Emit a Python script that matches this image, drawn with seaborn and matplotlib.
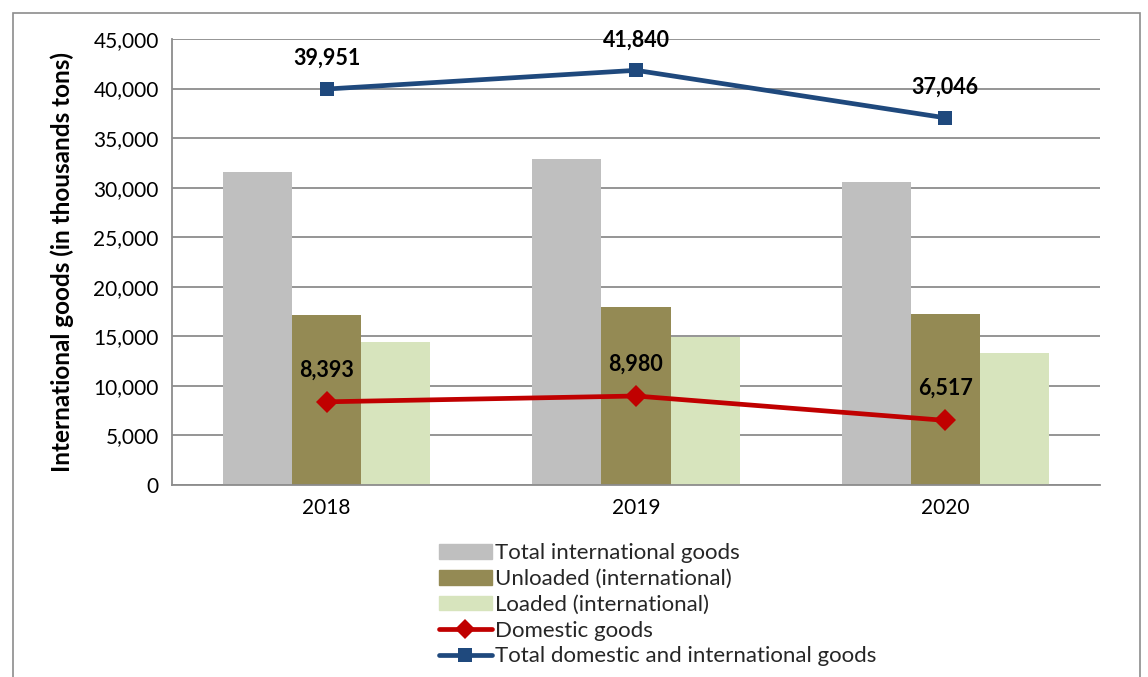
import numpy as np
import pandas as pd
import seaborn as sns
import matplotlib.pyplot as plt
from matplotlib.patches import Rectangle
from matplotlib.lines import Line2D
from matplotlib.ticker import FuncFormatter

# data (thousand tons)
years = ["2018", "2019", "2020"]
total_intl = [31581, 32923, 30572]
unloaded = [17153, 17990, 17223]
loaded = [14428, 14933, 13349]
domestic = [8393, 8980, 6517]
total_all = [39951, 41840, 37046]

bar_names = ["Total international goods", "Unloaded (international)", "Loaded (international)"]
bar_colors = ["#BFBFBF", "#948A54", "#D7E4BD"]

sns.set_style("white")
plt.rcParams['font.family'] = ['Lato', 'DejaVu Sans']

df = pd.DataFrame({
    "year": years * 3,
    "series": np.repeat(bar_names, 3),
    "value": total_intl + unloaded + loaded,
})

fig = plt.figure(figsize=(11.48, 6.77), dpi=100)
ax = fig.add_axes([0.1498, 0.2836, 0.8084, 0.6588])

sns.barplot(data=df, x="year", y="value", hue="series", palette=bar_colors,
            width=0.67, gap=0, ax=ax, legend=False, saturation=1, linewidth=0)

xs = np.arange(len(years))
sns.lineplot(x=xs, y=domestic, ax=ax, color="#C00000", lw=3.4, marker="D",
             markersize=11, markeredgewidth=0)
sns.lineplot(x=xs, y=total_all, ax=ax, color="#1F497D", lw=3.4, marker="s",
             markersize=10.5, markeredgewidth=0)

for x, v in zip(xs, total_all):
    ax.annotate(f"{v:,}", (x, v), xytext=(0, 22), textcoords="offset points",
                ha="center", va="center", fontsize=15.5, fontweight="bold", color="black")
for x, v in zip(xs, domestic):
    ax.annotate(f"{v:,}", (x, v), xytext=(0, 23), textcoords="offset points",
                ha="center", va="center", fontsize=15.5, fontweight="bold", color="black")

ax.set_xlim(-0.5, 2.5)
ax.set_ylim(0, 45000)
ax.set_yticks(range(0, 45001, 5000))
ax.yaxis.set_major_formatter(FuncFormatter(lambda v, p: f"{int(v):,}"))
ax.grid(axis="y", color="#8C8C8C", lw=1.3)
ax.set_axisbelow(True)
ax.set_xlabel("")
ax.set_ylabel("International goods (in thousands tons)", fontsize=17.5, fontweight="bold",
              labelpad=14, color="black")

# ticks between categories like excel
ax.set_xticks([-0.5, 0.5, 1.5, 2.5], minor=False)
ax.set_xticklabels([])
ax.set_xticks(xs, minor=True)
ax.set_xticklabels(years, minor=True, fontsize=15)
ax.tick_params(axis="x", which="major", direction="out", length=6, color="#8C8C8C", width=1.3)
ax.tick_params(axis="x", which="minor", length=0, pad=9, labelcolor="black")
ax.tick_params(axis="y", direction="out", length=6, color="#8C8C8C", width=1.3,
               labelsize=15, labelcolor="black")
for s in ["top", "right"]:
    ax.spines[s].set_visible(False)
for s in ["left", "bottom"]:
    ax.spines[s].set_color("#8C8C8C")
    ax.spines[s].set_linewidth(1.3)

handles = [Rectangle((0, 0), 1, 1, color=c) for c in bar_colors]
handles.append(Line2D([], [], color="#C00000", lw=3.4, marker="D", markersize=10, markeredgewidth=0))
handles.append(Line2D([], [], color="#1F497D", lw=3.4, marker="s", markersize=10, markeredgewidth=0))
labels = bar_names + ["Domestic goods", "Total domestic and international goods"]
fig.legend(handles, labels, loc="upper left", bbox_to_anchor=(0.3725, 0.214),
           frameon=False, fontsize=16, handlelength=2.4, handleheight=0.65,
           labelspacing=0.26, handletextpad=0.12, borderpad=0)

fig.patches.append(Rectangle((13 / 1148, -0.01), 1127 / 1148, 1 - 13 / 677 + 0.01,
                             transform=fig.transFigure, fill=False, ec="#8C8C8C", lw=1.2))

fig.savefig("out.png", dpi=100)
